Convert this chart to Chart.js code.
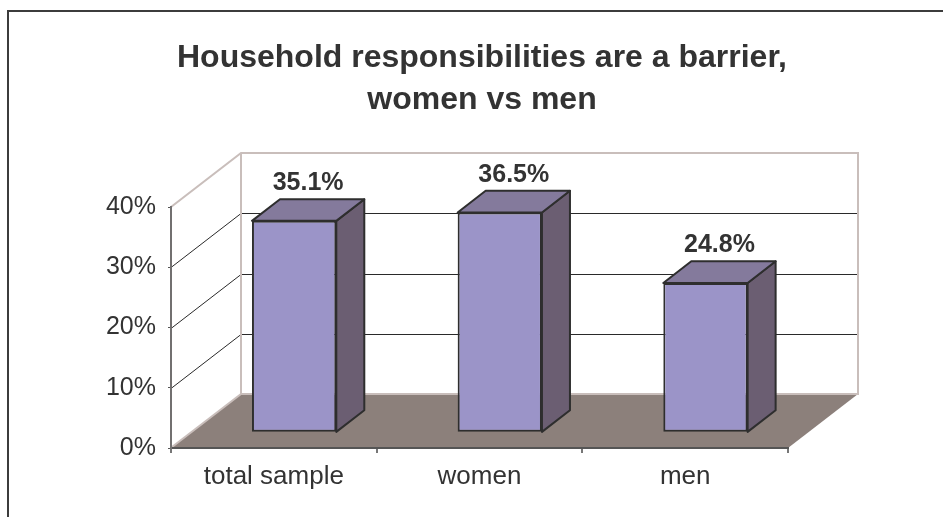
<!DOCTYPE html>
<html>
<head>
<meta charset="utf-8">
<title>Household responsibilities are a barrier</title>
<script src="https://cdn.jsdelivr.net/npm/chart.js@4.4.1/dist/chart.umd.min.js"></script>
<style>
  html, body { margin: 0; padding: 0; background: #fff; overflow: hidden; }
</style>
</head>
<body>
<canvas id="chart" width="943" height="517"></canvas>
<script>
// data
var categories = ['total sample', 'women', 'men'];
var shares = [35.1, 36.5, 24.8];
var yTicks = [0, 10, 20, 30, 40];
var titleLines = ['Household responsibilities are a barrier,', 'women vs men'];

var FONT = '"Liberation Sans", Arial, sans-serif';
var TEXT = '#333333';

// fake 3d: floor depth from the front axis to the back wall, bars sit between two depth fractions
var DEPTH_X = 70, DEPTH_Y = -54;
var BAR_FRONT = 0.29, BAR_BACK = 0.69;

function line(ctx, x1, y1, x2, y2) {
  ctx.beginPath();
  ctx.moveTo(x1, y1);
  ctx.lineTo(x2, y2);
  ctx.stroke();
}

function poly(ctx, pts, fill, stroke, width) {
  ctx.beginPath();
  ctx.moveTo(pts[0][0], pts[0][1]);
  for (var i = 1; i < pts.length; i++) ctx.lineTo(pts[i][0], pts[i][1]);
  ctx.closePath();
  if (fill) { ctx.fillStyle = fill; ctx.fill(); }
  if (stroke) { ctx.strokeStyle = stroke; ctx.lineWidth = width; ctx.lineJoin = 'round'; ctx.stroke(); }
}

var box3d = {
  id: 'box3d',
  // background, frame, back wall, side wall and floor go under the axes
  beforeDraw: function(chart) {
    var ctx = chart.ctx, a = chart.chartArea, ys = chart.scales.y;
    var L = a.left, R = a.right, B = a.bottom, T = ys.getPixelForValue(yTicks[yTicks.length - 1]);
    var dx = DEPTH_X, dy = DEPTH_Y;
    ctx.save();
    ctx.fillStyle = '#fff';
    ctx.fillRect(0, 0, chart.width, chart.height);

    // chart frame
    ctx.strokeStyle = '#3c3c3c';
    ctx.lineWidth = 2;
    ctx.strokeRect(8, 11, chart.width + 40, chart.height + 40);

    // grid lines on the side wall and back wall
    ctx.strokeStyle = '#2a2a2a';
    ctx.lineWidth = 1;
    yTicks.forEach(function(v) {
      if (v === yTicks[0] || v === yTicks[yTicks.length - 1]) return;
      var py = Math.round(ys.getPixelForValue(v)) + 0.5;
      line(ctx, L, py, L + dx, py + dy);
      line(ctx, L + dx, py + dy, R + dx, py + dy);
    });

    // floor
    poly(ctx, [[L, B], [R, B], [R + dx, B + dy], [L + dx, B + dy]], '#8c807b', null, 0);

    // light wall edges
    ctx.strokeStyle = '#c9bebb';
    ctx.lineWidth = 2;
    ctx.beginPath();
    ctx.moveTo(L, T);
    ctx.lineTo(L + dx, T + dy);
    ctx.lineTo(R + dx, T + dy);
    ctx.lineTo(R + dx, B + dy);
    ctx.lineTo(L + dx, B + dy);
    ctx.lineTo(L + dx, T + dy);
    ctx.stroke();
    line(ctx, L + 1, B - 1, L + dx, B + dy);
    ctx.restore();
  },
  // bar fronts are drawn by chart.js, pushed back into the floor
  beforeDatasetsDraw: function(chart) {
    chart.ctx.save();
    chart.ctx.translate(DEPTH_X * BAR_FRONT, DEPTH_Y * BAR_FRONT);
  },
  afterDatasetsDraw: function(chart) {
    var ctx = chart.ctx;
    ctx.restore();
    var fx = DEPTH_X * BAR_FRONT, fy = DEPTH_Y * BAR_FRONT;
    var sx = DEPTH_X * (BAR_BACK - BAR_FRONT), sy = DEPTH_Y * (BAR_BACK - BAR_FRONT);
    var meta = chart.getDatasetMeta(0);
    ctx.save();
    meta.data.forEach(function(bar, i) {
      var l = bar.x - bar.width / 2 + fx, r = bar.x + bar.width / 2 + fx;
      var t = bar.y + fy, b = bar.base + fy;
      // side
      poly(ctx, [[r, t], [r + sx, t + sy], [r + sx, b + sy], [r, b]], '#6b5e72', '#2e2e2e', 2);
      // top
      poly(ctx, [[l, t], [l + sx, t + sy], [r + sx, t + sy], [r, t]], '#847a9c', '#2e2e2e', 2);
      // value label
      ctx.fillStyle = TEXT;
      ctx.font = 'bold 25px ' + FONT;
      ctx.textAlign = 'center';
      ctx.textBaseline = 'alphabetic';
      ctx.fillText(shares[i].toFixed(1) + '%', (l + r + sx) / 2, t + sy - 9);
    });
    ctx.restore();
  }
};

new Chart(document.getElementById('chart'), {
  type: 'bar',
  data: {
    labels: categories,
    datasets: [{
      data: shares,
      xAxisID: 'x',
      yAxisID: 'y',
      backgroundColor: '#9b94c8',
      borderColor: '#2e2e2e',
      borderWidth: 2,
      borderSkipped: false,
      categoryPercentage: 1,
      barPercentage: 0.41,
      clip: false
    }]
  },
  options: {
    responsive: false,
    animation: false,
    devicePixelRatio: 1,
    events: [],
    layout: { padding: { left: 21, right: 0, top: 0, bottom: 0 } },
    plugins: {
      legend: { display: false },
      tooltip: { enabled: false },
      title: {
        display: true,
        text: titleLines,
        color: TEXT,
        font: { family: FONT, size: 32, weight: 'bold', lineHeight: '42px' },
        padding: { top: 37, bottom: 86 }
      }
    },
    scales: {
      x: {
        type: 'category',
        offset: true,
        grid: { display: true, drawOnChartArea: false, offset: true, tickLength: 5, color: '#777', lineWidth: 2 },
        border: { display: true, color: '#555', width: 2 },
        ticks: { color: TEXT, font: { family: FONT, size: 26 }, padding: 8 },
        afterFit: function(s) { s.height = 69; }
      },
      y: {
        type: 'linear',
        position: 'left',
        min: yTicks[0],
        max: yTicks[yTicks.length - 1],
        afterBuildTicks: function(s) { s.ticks = yTicks.map(function(v) { return { value: v }; }); },
        grid: { display: true, drawOnChartArea: false, tickLength: 3, color: '#555' },
        border: { display: true, color: '#727070', width: 2 },
        ticks: {
          color: TEXT,
          font: { family: FONT, size: 25 },
          padding: 12,
          callback: function(v) { return v + '%'; }
        },
        afterFit: function(s) { s.width = 150; }
      },
      // empty right-hand axis keeps the plot clear of the right margin
      pad: {
        type: 'linear',
        position: 'right',
        display: true,
        grid: { display: false },
        border: { display: false },
        ticks: { display: false },
        afterFit: function(s) { s.width = 155; }
      }
    }
  },
  plugins: [box3d]
});
</script>
</body>
</html>
